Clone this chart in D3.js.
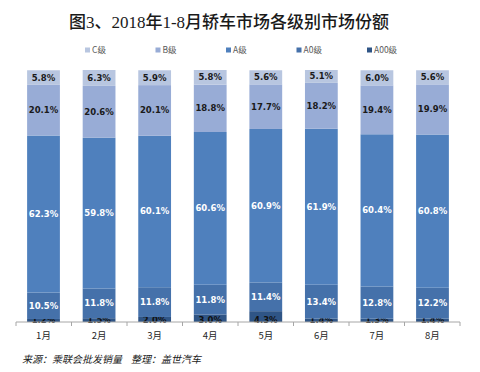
<!DOCTYPE html>
<meta charset="utf-8">
<title>2018年1-8月轿车市场各级别市场份额</title>
<style>
body { margin: 0; background: white; }
svg { font-family: "Noto Sans CJK SC", "Noto Sans", sans-serif; }
</style>
<body>
<script src="https://cdn.jsdelivr.net/npm/d3@7"></script>
<script>
// data
var months = ["1月", "2月", "3月", "4月", "5月", "6月", "7月", "8月"];
var levels = ["C级", "B级", "A级", "A0级", "A00级"];
var cShare   = [5.8, 6.3, 5.9, 5.8, 5.6, 5.1, 6.0, 5.6];
var bShare   = [20.1, 20.6, 20.1, 18.8, 17.7, 18.2, 19.4, 19.9];
var aShare   = [62.3, 59.8, 60.1, 60.6, 60.9, 61.9, 60.4, 60.8];
var a0Share  = [10.5, 11.8, 11.8, 11.8, 11.4, 13.4, 12.8, 12.2];
var a00Share = [1.2, 1.5, 2.0, 3.0, 4.3, 1.4, 1.3, 1.4];

var colors = ["#b8c6e0", "#98acd6", "#4f80bd", "#4571aa", "#2f5586"];
var labelColors = ["#1a1a1a", "#1a1a1a", "#ffffff", "#ffffff", "#111111"];

var rows = months.map(function(m, i) {
  return {month: m, "A00级": a00Share[i], "A0级": a0Share[i], "A级": aShare[i], "B级": bShare[i], "C级": cShare[i]};
});

var W = 480, H = 372;
var svg = d3.select("body").append("svg").attr("width", W).attr("height", H);

svg.append("text")
  .attr("x", 229).attr("y", 28)
  .attr("text-anchor", "middle")
  .style("font-family", "'Liberation Serif', 'Noto Sans CJK SC', serif")
  .style("font-size", "17px")
  .style("font-weight", "500")
  .attr("fill", "#1a1a1a")
  .text("图3、2018年1-8月轿车市场各级别市场份额");

// legend
var lg = svg.append("g").selectAll("g").data(levels).enter().append("g")
  .attr("transform", function(d, i) { return "translate(" + (85 + i * 70.5) + ",50)"; });
lg.append("rect").attr("x", 0).attr("y", -2.5).attr("width", 5).attr("height", 5)
  .attr("fill", function(d, i) { return colors[i]; });
lg.append("text").attr("x", 7).attr("y", 0).attr("dy", "0.35em")
  .style("font-size", "8.5px").attr("fill", "#595959")
  .text(function(d) { return d; });

var x = d3.scaleBand().domain(months).range([16, 460]).paddingInner(0.41).paddingOuter(0.2);
var y = d3.scaleLinear().domain([0, 100]).range([322, 70]);

var stackKeys = levels.slice().reverse();
var series = d3.stack().keys(stackKeys)(rows);

var layer = svg.append("g").selectAll("g").data(series).enter().append("g")
  .attr("fill", function(s) { return colors[levels.indexOf(s.key)]; });

layer.selectAll("rect").data(function(s) { return s; }).enter().append("rect")
  .attr("x", function(d) { return x(d.data.month); })
  .attr("width", x.bandwidth())
  .attr("y", function(d) { return y(d[1]); })
  .attr("height", function(d) { return y(d[0]) - y(d[1]); });

// x axis with ticks between bands
var axis = svg.append("g").attr("transform", "translate(0,322)");
axis.append("line").attr("x1", 16).attr("x2", 460).attr("stroke", "#a6a6a6");
axis.selectAll("line.tick").data(d3.range(months.length + 1)).enter().append("line")
  .attr("class", "tick")
  .attr("x1", function(i) { return 16 + i * (444 / months.length); })
  .attr("x2", function(i) { return 16 + i * (444 / months.length); })
  .attr("y1", 0).attr("y2", 4).attr("stroke", "#a6a6a6");
axis.selectAll("text").data(months).enter().append("text")
  .attr("x", function(d) { return x(d) + x.bandwidth() / 2; })
  .attr("y", 14).attr("dy", "0.35em")
  .attr("text-anchor", "middle")
  .style("font-size", "9.5px").attr("fill", "#262626")
  .text(function(d) { return d; });

// value labels on top of everything
layer.selectAll("text").data(function(s) { return s.map(function(d) { d.key = s.key; return d; }); })
  .enter().append("text")
  .attr("x", function(d) { return x(d.data.month) + x.bandwidth() / 2; })
  .attr("y", function(d) {
    var c = (y(d[0]) + y(d[1])) / 2;
    return d.key === "A00级" ? Math.max(c, 320.5) : c;
  })
  .attr("dy", "0.35em")
  .attr("text-anchor", "middle")
  .style("font-family", "'DejaVu Sans', sans-serif")
  .style("font-size", "8.5px")
  .style("font-weight", "bold")
  .attr("fill", function(d) { return labelColors[levels.indexOf(d.key)]; })
  .text(function(d) { return d.data[d.key].toFixed(1) + "%"; });

svg.append("text")
  .attr("x", 22).attr("y", 363)
  .style("font-size", "10px").style("font-style", "italic")
  .attr("fill", "#1a1a1a")
  .text("来源：乘联会批发销量\u00a0\u00a0\u00a0\u00a0整理：盖世汽车");
</script>
</body>
